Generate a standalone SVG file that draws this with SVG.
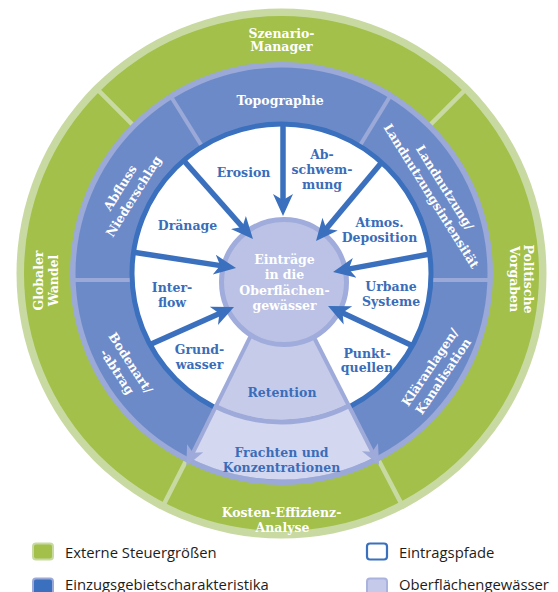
<svg xmlns="http://www.w3.org/2000/svg" width="558" height="592" viewBox="0 0 558 592">
<style>
.w{font-family:"DejaVu Serif",serif;font-weight:bold;font-size:12.5px;fill:#fff;text-anchor:middle}
.b{font-family:"DejaVu Serif",serif;font-weight:bold;font-size:12.5px;fill:#3a6db9;text-anchor:middle}
.lg{font-family:"Open Sans",sans-serif;font-size:14.8px;fill:#1d1d1b}
.gdiv{stroke:#c8daa2;stroke-width:4.5}
.bdiv{stroke:#9aa9d8;stroke-width:4}
.arr{stroke:#3a70bd;stroke-width:5.5;fill:none}
.larr{stroke:#9eaad9;stroke-width:4;fill:none}
</style>
<defs>
<marker id="ah" markerUnits="userSpaceOnUse" markerWidth="24" markerHeight="24" viewBox="0 -12 24 24" refX="8" refY="0" orient="auto">
<path d="M22,0 L0,-10 L6,0 L0,10 Z" fill="#3a70bd"/>
</marker>
<marker id="ahl" markerUnits="userSpaceOnUse" markerWidth="24" markerHeight="24" viewBox="0 -12 24 24" refX="6" refY="0" orient="auto">
<path d="M20,0 L0,-9 L5,0 L0,9 Z" fill="#9eaad9"/>
</marker>
</defs>
<rect width="558" height="592" fill="#fff"/>
<g id="rings">
<circle cx="281.5" cy="273.5" r="265" fill="#c8daa2"/>
<circle cx="281.5" cy="273.5" r="257.5" fill="#a2c04a"/>
<line class="gdiv" x1="132.3" y1="124.3" x2="96.2" y2="88.2"/>
<line class="gdiv" x1="430.7" y1="124.3" x2="466.8" y2="88.2"/>
<line class="gdiv" x1="378.9" y1="460.7" x2="402.5" y2="505.9"/>
<line class="gdiv" x1="185.7" y1="461.5" x2="162.5" y2="507.0"/>
<circle cx="281.5" cy="273.5" r="211.5" fill="#9aa9d8"/>
<circle cx="281.5" cy="273.5" r="206" fill="#6d8ac8"/>
<line class="bdiv" x1="201.5" y1="145.5" x2="170.8" y2="96.3"/>
<line class="bdiv" x1="360.4" y1="144.8" x2="390.7" y2="95.3"/>
<line class="bdiv" x1="72" y1="280" x2="131" y2="280"/>
<line class="bdiv" x1="432" y1="280" x2="491" y2="280"/>
<circle cx="281.5" cy="273.5" r="149.5" fill="#fff" stroke="#3a70bd" stroke-width="5"/>
<path d="M216.8,404.4 L190.2,458.2 A206,206 0 0 0 375.0,457.0 L347.8,403.6 A146,146 0 0 1 216.8,404.4 Z" fill="#d4d7f0"/>
<path d="M254.9,327.3 L216.8,404.4 A146,146 0 0 0 347.8,403.6 L308.7,327.0 Z" fill="#c7cbea"/>
<path d="M215.7,406.6 A148.5,148.5 0 0 0 348.9,405.8" fill="none" stroke="#9eaad9" stroke-width="5"/>
</g>
<g id="connectors">
<line class="larr" x1="254.9" y1="327.3" x2="192.5" y2="453.6" marker-end="url(#ahl)"/>
<line class="larr" x1="308.7" y1="327.0" x2="372.7" y2="452.6" marker-end="url(#ahl)"/>
</g>
<g id="node-eintraege">
<circle cx="284" cy="282" r="62.5" fill="#bbc2e5" stroke="#a0acdb" stroke-width="5"/>
<text class="w" x="284.5" y="263.5">Einträge</text>
<text class="w" x="284.5" y="279">in die</text>
<text class="w" x="284.5" y="294.5">Oberflächen-</text>
<text class="w" x="284.5" y="310">gewässer</text>
</g>
<g id="connectors-eintragspfade">
<line class="arr" x1="185" y1="162" x2="243.7" y2="228.5" marker-end="url(#ah)"/>
<line class="arr" x1="283" y1="125" x2="283" y2="202" marker-end="url(#ah)"/>
<line class="arr" x1="382" y1="162" x2="325.0" y2="230.2" marker-end="url(#ah)"/>
<line class="arr" x1="430" y1="254" x2="346.8" y2="269.4" marker-end="url(#ah)"/>
<line class="arr" x1="413" y1="346" x2="340.7" y2="312.0" marker-end="url(#ah)"/>
<line class="arr" x1="132" y1="252" x2="222.2" y2="265.9" marker-end="url(#ah)"/>
<line class="arr" x1="149" y1="345" x2="221.2" y2="312.7" marker-end="url(#ah)"/>
</g>
<g id="node-szenario"><text class="w" x="281.5" y="37.5">Szenario-</text><text class="w" x="281.5" y="51">Manager</text></g>
<g id="node-politische" transform="translate(524,279) rotate(90)"><text class="w" x="0" y="0">Politische</text><text class="w" x="0" y="14.5">Vorgaben</text></g>
<g id="node-kosten"><text class="w" x="281.5" y="516.7">Kosten-Effizienz-</text><text class="w" x="282.5" y="531.7">Analyse</text></g>
<g id="node-globaler" transform="translate(42.5,280.5) rotate(-90)"><text class="w" x="0" y="0">Globaler</text><text class="w" x="0" y="15.5">Wandel</text></g>
<g id="node-topographie"><text class="w" x="280" y="104.5">Topographie</text></g>
<g id="node-landnutzung" transform="translate(438.2,191.7) rotate(58)"><text class="w" x="0" y="-3.5">Landnutzung/</text><text class="w" x="0" y="12.5">Landnutzungsintensität</text></g>
<g id="node-klaeranlagen" transform="translate(436.5,371.7) rotate(-56)"><text class="w" x="0" y="-3.5">Kläranlagen/</text><text class="w" x="0" y="12.5">Kanalisation</text></g>
<g id="node-bodenart" transform="translate(124,367.2) rotate(57)"><text class="w" x="0" y="-3.5">Bodenart/</text><text class="w" x="0" y="12.5">-abtrag</text></g>
<g id="node-abfluss" transform="translate(126.75,192) rotate(-58)"><text class="w" x="0" y="-3.5">Abfluss</text><text class="w" x="0" y="12.5">Niederschlag</text></g>
<g id="node-erosion"><text class="b" x="243.5" y="177">Erosion</text></g>
<g id="node-abschwemmung"><text class="b" x="322" y="158.5">Ab-</text><text class="b" x="322" y="173.5">schwem-</text><text class="b" x="322" y="188.5">mung</text></g>
<g id="node-atmos"><text class="b" x="379.5" y="227">Atmos.</text><text class="b" x="379.5" y="242">Deposition</text></g>
<g id="node-urbane"><text class="b" x="391" y="290.5">Urbane</text><text class="b" x="391" y="306">Systeme</text></g>
<g id="node-punktquellen"><text class="b" x="367" y="358.3">Punkt-</text><text class="b" x="367" y="372">quellen</text></g>
<g id="node-grundwasser"><text class="b" x="199.5" y="354">Grund-</text><text class="b" x="199.5" y="369.3">wasser</text></g>
<g id="node-interflow"><text class="b" x="172" y="292">Inter-</text><text class="b" x="172" y="306.5">flow</text></g>
<g id="node-draenage"><text class="b" x="187.5" y="230">Dränage</text></g>
<g id="node-retention"><text class="b" x="282" y="396.5">Retention</text></g>
<g id="node-frachten"><text class="b" x="281.5" y="456.7">Frachten und</text><text class="b" x="281.5" y="472.3">Konzentrationen</text></g>
<g id="legend">
<rect x="33" y="543.5" width="20" height="16" rx="3" fill="#a2c04a" stroke="#c8daa2" stroke-width="2"/>
<text class="lg" x="65" y="558.3">Externe Steuergrößen</text>
<rect x="33" y="578.5" width="20" height="16" rx="3" fill="#3a70bd" stroke="#9aa9d8" stroke-width="2"/>
<text class="lg" x="65" y="589.5">Einzugsgebietscharakteristika</text>
<rect x="367" y="543.5" width="20" height="16" rx="3" fill="#fff" stroke="#3a70bd" stroke-width="2.2"/>
<text class="lg" x="399" y="558.3">Eintragspfade</text>
<rect x="367" y="578.5" width="20" height="16" rx="3" fill="#c5caea" stroke="#aab3de" stroke-width="2"/>
<text class="lg" x="399" y="589.5">Oberflächengewässer</text>
</g>
</svg>
